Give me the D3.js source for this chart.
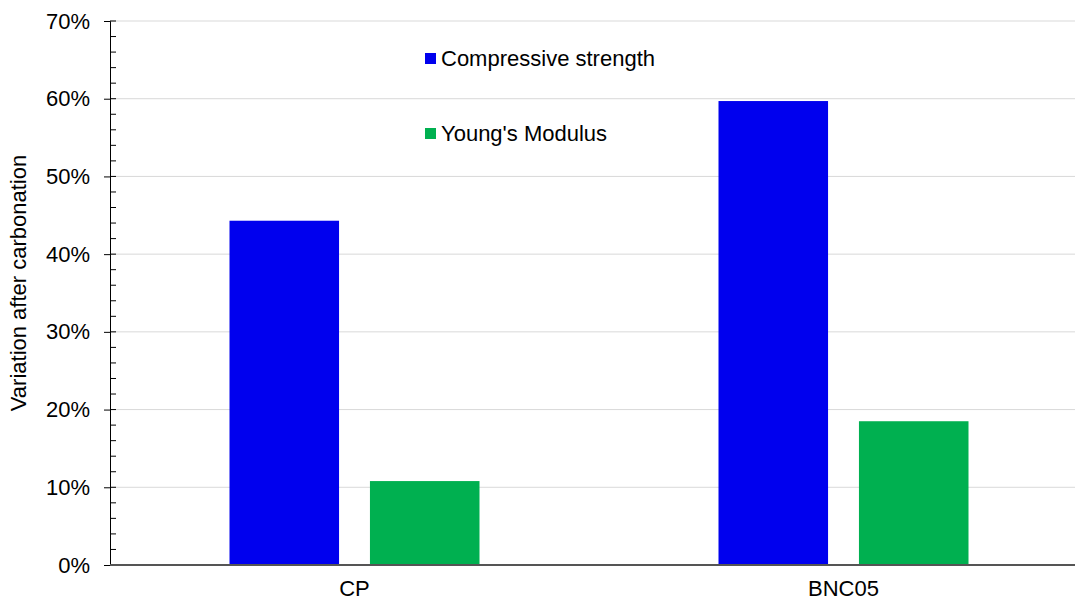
<!DOCTYPE html>
<html><head><meta charset="utf-8">
<script src="https://cdn.jsdelivr.net/npm/d3@7"></script>
<style>body{margin:0;background:#fff}text{font-family:Arial,"Liberation Sans",sans-serif}</style>
</head><body>
<svg id="c" width="1075" height="605"></svg>
<script>
const categories = ["CP", "BNC05"];
const seriesNames = ["Compressive strength", "Young's Modulus"];
const compressive = [0.443, 0.597];
const young = [0.108, 0.185];
const yTicks = [0, 0.1, 0.2, 0.3, 0.4, 0.5, 0.6, 0.7];
const colors = ["#0000ee", "#00b050"];

const svg = d3.select("#c");
const x0 = 110, x1 = 1088, yTop = 21, yBot = 565;
const x = d3.scaleBand().domain(categories).range([x0, x1]);
const y = d3.scaleLinear().domain([0, 0.7]).range([yBot, yTop]);
const bw = x.bandwidth();
const inner = d3.scaleBand().domain(seriesNames).range([bw / 2 - 125, bw / 2 + 125]).paddingInner(0.22);

svg.append("g").selectAll("line").data(yTicks.slice(1)).join("line")
  .attr("x1", x0).attr("x2", 1075).attr("y1", d => y(d)).attr("y2", d => y(d))
  .attr("stroke", "#d9d9d9").attr("stroke-width", 1);

const data = [compressive, young];
data.forEach((vals, si) => {
  svg.append("g").selectAll("rect").data(categories).join("rect")
    .attr("x", (c) => x(c) + inner(seriesNames[si]))
    .attr("width", inner.bandwidth())
    .attr("y", (c, i) => y(vals[i]))
    .attr("height", (c, i) => yBot - y(vals[i]))
    .attr("fill", colors[si]);
});

// y axis
const ya = svg.append("g").attr("transform", `translate(${x0},0)`)
  .call(d3.axisLeft(y).tickValues(yTicks).tickFormat(d3.format(".0%")).tickSize(6).tickPadding(14));
ya.select(".domain").attr("stroke", "#000");
ya.selectAll("text").attr("font-size", 22).attr("fill", "#000");
const minor = d3.range(0.02, 0.7, 0.02).filter(v => Math.abs(v * 10 - Math.round(v * 10)) > 1e-6);
svg.append("g").selectAll("line").data(minor).join("line")
  .attr("x1", x0).attr("x2", x0 + 6).attr("y1", d => y(d)).attr("y2", d => y(d)).attr("stroke", "#000");
svg.append("g").selectAll("line").data(yTicks).join("line")
  .attr("x1", x0).attr("x2", x0 + 6).attr("y1", d => y(d)).attr("y2", d => y(d)).attr("stroke", "#000");

// x axis
svg.append("line").attr("x1", x0).attr("x2", 1075).attr("y1", yBot).attr("y2", yBot)
  .attr("stroke", "#555").attr("stroke-width", 2);
svg.append("g").selectAll("text").data(categories).join("text")
  .attr("x", d => x(d) + bw / 2).attr("y", 596)
  .attr("text-anchor", "middle").attr("font-size", 22).text(d => d);

svg.append("text").attr("transform", "translate(26,283) rotate(-90)")
  .attr("text-anchor", "middle").attr("font-size", 22).text("Variation after carbonation");

// legend
const lg = svg.append("g").selectAll("g").data(seriesNames).join("g")
  .attr("transform", (d, i) => `translate(425,${58 + i * 75})`);
lg.append("rect").attr("x", 0).attr("y", -5).attr("width", 11).attr("height", 11).attr("fill", (d, i) => colors[i]);
lg.append("text").attr("x", 16).attr("y", 8).attr("font-size", 22).text(d => d);
</script>
</body></html>
